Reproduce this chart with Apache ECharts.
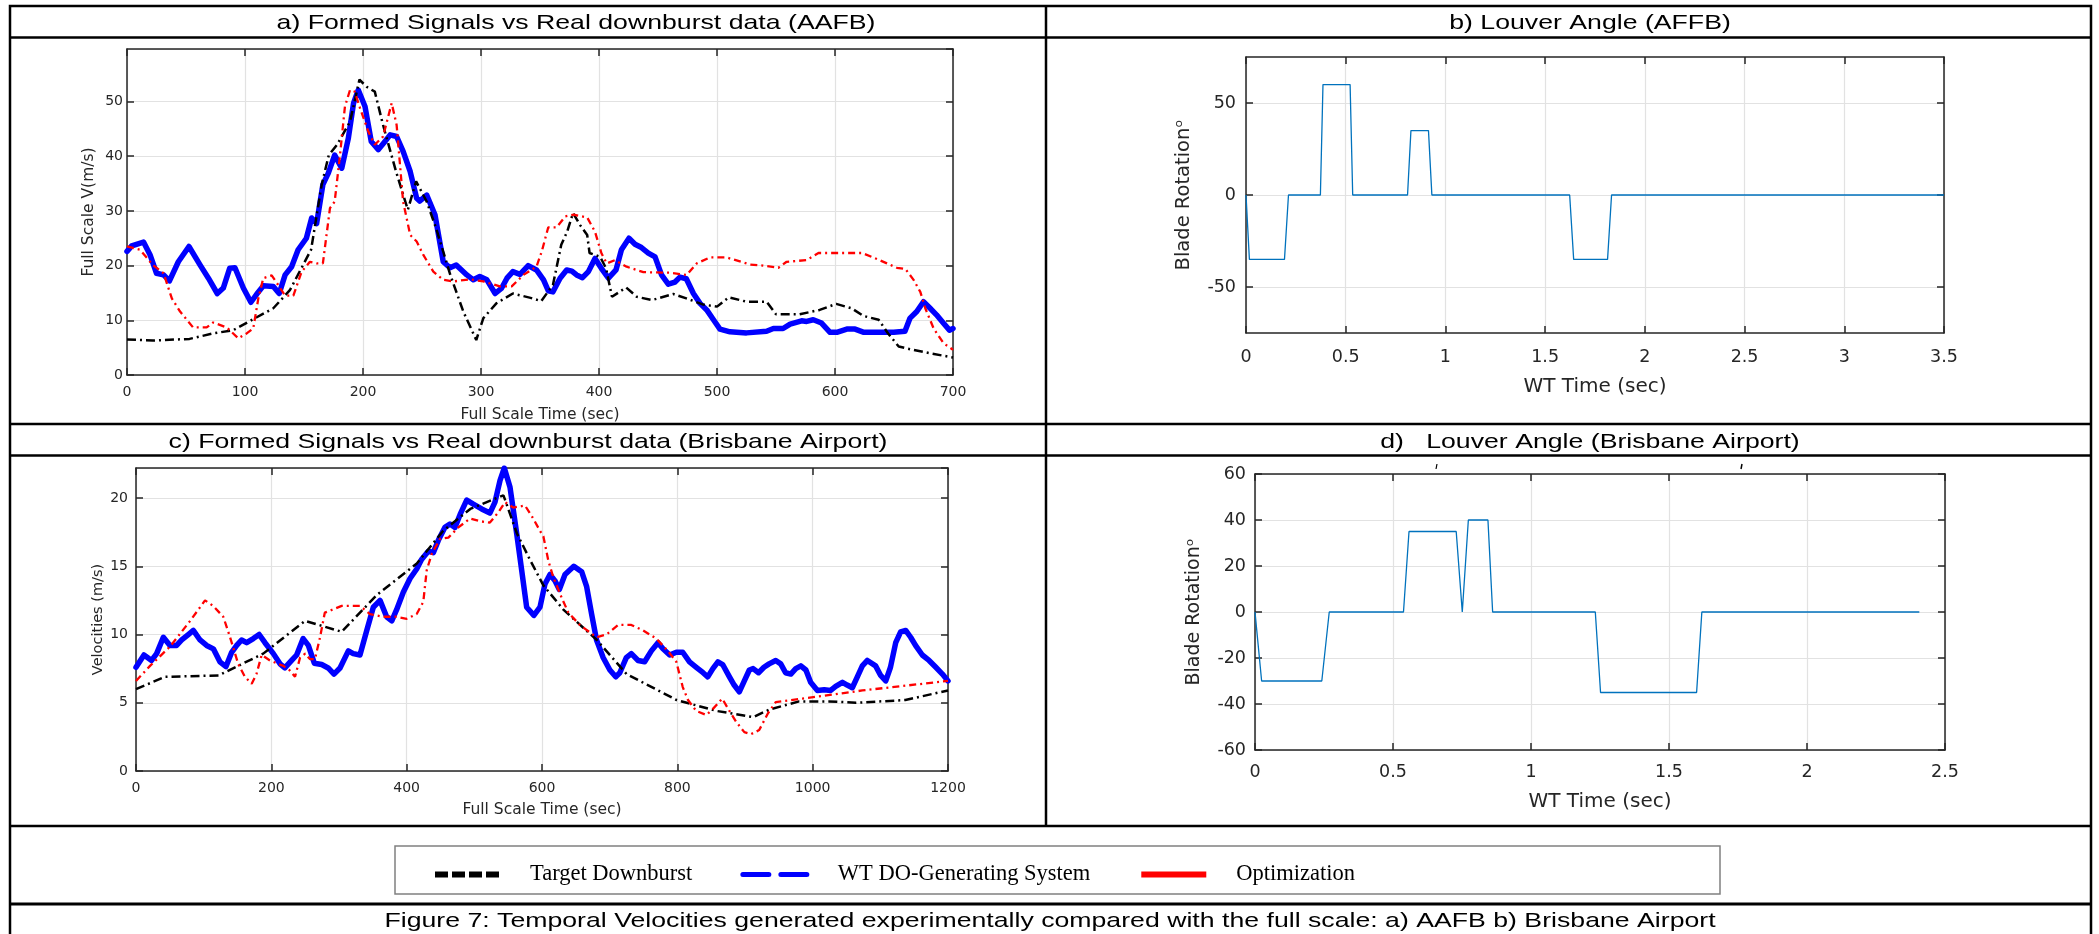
<!DOCTYPE html>
<html><head><meta charset="utf-8">
<script src="https://cdn.jsdelivr.net/npm/echarts@6/dist/echarts.min.js"></script>
<style>html,body{margin:0;padding:0;background:#fff}#c{width:2099px;height:934px}</style>
</head><body><div id="c"></div>
<script>
// ---------------- data ----------------
const seriesNames = ['Target Downburst', 'WT DO-Generating System', 'Optimization'];

// a) AAFB  [time (s), velocity (m/s)]
const aTarget = [[0,6.5],[22,6.3],[53,6.6],[73,7.6],[90,8.2],[107,10.2],[124,12.2],[138,15.5],[156,22.9],[165,34.8],[171,40.2],[178,42.1],[189,46.3],[197,54],[203,52.7],[210,51.8],[217,45.7],[228,37.2],[238,30.2],[245,35.4],[254,31.7],[262,26.8],[274,18.3],[285,11.6],[296,6.4],[302,10.4],[313,13.1],[327,14.9],[342,14.1],[351,13.5],[361,16.5],[368,23.8],[373,26.2],[378,29.6],[384,27.4],[390,25.6],[392,22.3],[401,21.6],[406,19.5],[411,14.3],[423,16],[432,14.3],[445,13.7],[463,14.8],[474,14],[488,12.9],[500,12.5],[510,14.2],[525,13.4],[542,13.4],[550,11.1],[570,11.1],[587,11.9],[601,13],[614,12.2],[624,10.8],[637,10.1],[645,7.6],[654,5.2],[666,4.6],[680,4],[700,3.2]];
const aWT = [[0,22.6],[4,23.6],[14,24.3],[19.5,22],[25,18.6],[31,18.3],[36,17.2],[43.5,20.7],[52.5,23.5],[62,20.1],[69,17.7],[76.5,14.9],[81.6,15.9],[87,19.5],[91.5,19.6],[98.6,15.9],[105,13.3],[110,14.8],[115.5,16.3],[124,16.2],[129,14.9],[134,18.3],[139.5,19.8],[145,22.9],[152,25],[156.5,28.7],[160.7,27.7],[166,34.8],[170.6,36.9],[176,40.2],[182,37.8],[187.6,43.3],[192,49.7],[196,52.1],[201.7,49.1],[207,42.7],[213,41.2],[218.6,42.7],[223,43.9],[228.5,43.6],[234,40.9],[240,37.2],[245.5,32.3],[248,31.8],[254,32.9],[261,29.3],[268,20.7],[273.7,19.6],[279,20.1],[288,18.3],[293.5,17.4],[299,18],[305,17.4],[312,14.9],[317.5,15.9],[322,17.7],[327,18.9],[333,18.4],[340,20],[347,19.2],[353,17.4],[357,15.4],[361,15.2],[367,17.7],[372.6,19.2],[377,19],[381,18.3],[386,17.8],[391,18.9],[396.6,21.3],[402,19.5],[408,17.7],[414.4,19.2],[419,22.9],[425.4,25],[430.5,23.9],[436,23.3],[441.8,22.3],[447.5,21.6],[453,18.3],[458.7,16.6],[464.4,17],[468.6,17.9],[474,17.6],[480,14.9],[485.6,13.1],[491.3,11.9],[497,10.1],[502.5,8.4],[511,7.9],[525,7.7],[542,8],[547.8,8.5],[556,8.5],[562,9.3],[571.7,9.9],[576,9.8],[581.6,10.1],[588.6,9.5],[595.8,7.8],[601.5,7.8],[610,8.4],[617,8.4],[624.5,7.8],[649.8,7.8],[659.3,8],[663.6,10.4],[669.3,11.6],[675,13.4],[680.6,12.2],[686,11],[691.8,9.5],[697,8.2],[700,8.5]];
const aOpt = [[0,23.5],[11,22.9],[22,20.1],[31,18.6],[38,14],[45,11.6],[56,8.7],[67.5,8.7],[73,9.6],[84.5,8.7],[94.4,6.7],[101.4,7.6],[107,8.5],[111.3,14],[115.5,17.7],[122.6,18.2],[128,16.5],[134,14.5],[141,14.5],[148,18.9],[155,20.7],[160.7,20.4],[166,20.4],[172,30.5],[176,31.7],[180.5,40.2],[184.7,49.1],[189,52.1],[193,51.8],[197.5,48.8],[204.5,44.5],[210,42.1],[217,43.6],[224.3,49.7],[228.5,45.7],[234,31.7],[240,25.6],[245.5,24.4],[251,22],[259.6,18.9],[268,17.4],[276.6,17.1],[290.7,17.5],[302,17.1],[316,16.2],[326,16.2],[336,18.3],[347,19.8],[351.5,22.6],[357,27],[364,27],[371.5,29],[378.5,29.3],[390,28.8],[396.6,26.2],[402,22.3],[406.5,20.4],[413.6,21],[423.4,19.8],[437.6,18.8],[460,18.7],[474.3,18.3],[482.8,20.4],[494,21.5],[508,21.5],[528,20.2],[539,20],[552,19.6],[559,20.7],[576,21],[586,22.3],[604,22.3],[623,22.3],[635.5,21.2],[644,20.4],[652.5,19.6],[659.6,19.4],[666.6,17.4],[672.3,15.2],[676.5,12.2],[683.6,8.5],[692,5.8],[700,4.6]];

// c) Brisbane Airport  [time (s), velocity (m/s)]
const cTarget = [[0,6],[43,6.9],[122,7],[188,8.6],[250,11],[304,10.2],[356,12.9],[415,15.2],[454,17.6],[494,19.2],[543,20.2],[563,17.4],[582,15.5],[602,13.6],[632,11.8],[681,9.6],[725,7.1],[799,5.2],[858,4.4],[912,3.95],[936,4.5],[980,5.1],[1024,5.1],[1064,5],[1137,5.2],[1200,5.9]];
const cWT = [[0,7.6],[11.8,8.5],[23,8.1],[30.5,8.6],[40.4,9.8],[50.2,9.2],[60,9.2],[67.5,9.6],[77.3,10],[84.7,10.3],[94.6,9.6],[104.4,9.2],[114.3,8.95],[124,8],[133,7.65],[141.4,8.7],[148.8,9.2],[156,9.6],[163.5,9.4],[173.4,9.7],[182,10],[190.6,9.4],[203,8.6],[212.8,7.85],[220,7.55],[230,8.1],[237.4,8.5],[247,9.7],[254.7,9.2],[263.5,7.9],[274.4,7.8],[284,7.55],[292.6,7.1],[301.5,7.55],[313.8,8.8],[321,8.6],[331,8.5],[341,10.3],[350.7,12],[360.6,12.5],[370.4,11.3],[378,11],[385,11.8],[395,13.1],[405,14.1],[414.8,14.8],[422,15.5],[432,16.1],[439.4,16],[446.8,16.9],[456.6,17.85],[464,18.1],[471.4,17.85],[479,18.8],[488.7,19.85],[498.5,19.55],[510.8,19.2],[523,18.9],[530.5,19.7],[538,21.3],[544.3,22.2],[552.7,20.8],[562.6,17.4],[570,14.7],[577.3,12],[588,11.4],[597,12],[604.4,13.7],[611.8,14.4],[619,13.95],[625.6,13.3],[634,14.4],[647,15],[658.6,14.6],[666,13.5],[673.3,11.5],[680.6,9.6],[690.5,8.3],[700.3,7.4],[709,6.9],[715,7.2],[724.6,8.3],[732,8.6],[742,8.1],[751.7,8],[761.6,8.8],[771.4,9.4],[778.8,8.95],[788.7,8.5],[798.5,8.7],[808,8.7],[818,8],[828,7.6],[838,7.2],[845,6.9],[852.5,7.5],[860,8],[867,7.8],[877,6.9],[884,6.3],[891.6,5.8],[899,6.6],[906.4,7.4],[912,7.5],[920,7.2],[928,7.6],[935.6,7.85],[945.4,8.1],[952.8,7.85],[960,7.2],[967.7,7.1],[975,7.5],[982.5,7.7],[990,7.4],[997,6.5],[1007,5.9],[1017,5.95],[1026.6,5.9],[1034,6.2],[1044,6.5],[1051,6.3],[1058.6,6.1],[1066,6.9],[1073.4,7.7],[1080.8,8.1],[1093,7.7],[1100.5,7],[1108,6.6],[1115,7.6],[1122.7,9.4],[1130,10.2],[1137.5,10.3],[1144.8,9.8],[1152,9.2],[1162,8.5],[1172,8.1],[1182,7.6],[1191.7,7.1],[1200,6.6]];
const cOpt = [[0,6.6],[20.7,7.7],[50,9.1],[80,11],[102,12.5],[114,12.1],[129,11.3],[139,9.8],[151,7.85],[161,6.9],[171,6.4],[178,7.1],[185.7,8.5],[198,8.1],[217.7,7.7],[226.6,7.4],[235,6.9],[242.4,8.3],[250,8.6],[257,8.2],[264.5,8.2],[272,9.8],[279,11.6],[289,11.8],[304,12.1],[331,12.1],[345.8,11.5],[365.5,11.3],[385,11.3],[400,11.15],[414.8,11.5],[424.6,12.4],[429.6,14.7],[437,15.9],[449.3,17],[461.6,17.1],[476.4,17.85],[493.6,18.5],[508.4,18.3],[523,18.2],[535.5,18.95],[545.3,19.7],[557.6,19.3],[574.9,19.45],[587,18.5],[597,17.6],[602,17.2],[609.4,15.4],[616.7,14.2],[629,12.7],[639,11.6],[656,10.7],[680.6,9.8],[695.4,10],[712.6,10.7],[732,10.7],[749.5,10.3],[769,9.7],[786,8.8],[798.5,8],[808,6.15],[815.8,5.2],[828,4.4],[843,4.1],[852.6,4.55],[866.4,5.3],[877,4.4],[887,3.6],[899,2.85],[909,2.7],[921,3],[933.6,4.2],[945.4,5.05],[985,5.3],[1073.4,5.9],[1200,6.6]];

// b) / d) louver angles  [WT time (s), blade rotation (deg)]
const bLouver = [[0,0],[0.017,-35],[0.193,-35],[0.213,0],[0.373,0],[0.386,60],[0.522,60],[0.535,0],[0.81,0],[0.827,35],[0.915,35],[0.932,0],[1.623,0],[1.643,-35],[1.813,-35],[1.833,0],[3.5,0]];
const dLouver = [[0,0],[0.024,-30],[0.242,-30],[0.269,0],[0.538,0],[0.558,35],[0.729,35],[0.751,0],[0.758,0],[0.773,40],[0.844,40],[0.861,0],[1.233,0],[1.252,-35],[1.6,-35],[1.619,0],[2.407,0]];

// axis ranges / ticks
const aX = {min:0, max:700, interval:100};
const aY = {min:0, max:59.6, interval:10};
const bX = {min:0, max:3.5, interval:0.5};
const bY = {min:-75, max:75, interval:25};
const bYTicks = [-50, 0, 50];
const cX = {min:0, max:1200, interval:200};
const cY = {min:0, max:22.2, interval:5};
const dX = {min:0, max:2.5, interval:0.5};
const dY = {min:-60, max:60, interval:20};

const titles = ['a) Formed Signals vs Real downburst data (AAFB)', 'b) Louver Angle (AFFB)',
  'c) Formed Signals vs Real downburst data (Brisbane Airport)', 'd)   Louver Angle (Brisbane Airport)'];
const caption = 'Figure 7: Temporal Velocities generated experimentally compared with the full scale: a) AAFB b) Brisbane Airport';

// ---------------- chart ----------------
const chart = echarts.init(document.getElementById('c'));
const AX = '#262626', FONT = 'DejaVu Sans';
const plain = v => String(v);

function xAxes(gi, r, lab) {
  const base = {type:'value', gridIndex:gi, min:r.min, max:r.max, interval:r.interval,
    axisLine:{show:true, onZero:false, lineStyle:{color:AX, width:1.5}},
    axisTick:{show:true, inside:true, length:7, lineStyle:{color:AX, width:1.5}}};
  return [
    Object.assign({}, base, {position:'bottom', name:lab.name, nameLocation:'middle', nameGap:lab.nameGap,
      nameTextStyle:{color:AX, fontFamily:FONT, fontSize:lab.nameSize},
      splitLine:{show:true, lineStyle:{color:'#e2e2e2', width:1.2}},
      axisLabel:{color:AX, fontFamily:FONT, fontSize:lab.size, margin:lab.margin, formatter:plain}}),
    Object.assign({}, base, {position:'top', axisLabel:{show:false}, splitLine:{show:false}})
  ];
}
function yAxes(gi, r, lab, custom) {
  const tick = {show:true, inside:true, length:7, lineStyle:{color:AX, width:1.5}};
  if (custom) tick.customValues = custom;
  const base = {type:'value', gridIndex:gi, min:r.min, max:r.max, interval:r.interval,
    axisLine:{show:true, onZero:false, lineStyle:{color:AX, width:1.5}}, axisTick:tick};
  const label = {color:AX, fontFamily:FONT, fontSize:lab.size, margin:lab.margin, formatter:plain};
  if (lab.hideMax) label.showMaxLabel = false;
  if (custom) label.customValues = custom;
  return [
    Object.assign({}, base, {position:'left', name:lab.name, nameLocation:'middle', nameGap:lab.nameGap,
      nameTextStyle:{color:AX, fontFamily:FONT, fontSize:lab.nameSize},
      splitLine:{show:true, lineStyle:{color:'#e2e2e2', width:1.2}}, axisLabel:label}),
    Object.assign({}, base, {position:'right', axisLabel:{show:false}, splitLine:{show:false}})
  ];
}

const xAxis = [].concat(
  xAxes(0, aX, {name:'Full Scale Time (sec)', nameGap:32, nameSize:15.5, size:14, margin:10}),
  xAxes(1, bX, {name:'WT Time (sec)', nameGap:44, nameSize:20, size:17.5, margin:15}),
  xAxes(2, cX, {name:'Full Scale Time (sec)', nameGap:31, nameSize:15.5, size:14, margin:10}),
  xAxes(3, dX, {name:'WT Time (sec)', nameGap:42, nameSize:20, size:17.5, margin:13})
);
const yAxis = [].concat(
  yAxes(0, aY, {name:'Full Scale V(m/s)', nameGap:30, nameSize:15.5, size:14, margin:4, hideMax:true}),
  yAxes(1, bY, {name:'Blade Rotationᵒ', nameGap:52, nameSize:19.5, size:17.5, margin:10}, bYTicks),
  yAxes(2, cY, {name:'Velocities (m/s)', nameGap:30, nameSize:14.5, size:14, margin:8, hideMax:true}),
  yAxes(3, dY, {name:'Blade Rotationᵒ', nameGap:51, nameSize:19, size:17.5, margin:9})
);

function flowSeries(gi, target, wt, opt) {
  const ax = {xAxisIndex:gi*2, yAxisIndex:gi*2, type:'line', symbol:'none', showSymbol:false, silent:true, animation:false};
  return [
    Object.assign({}, ax, {name:seriesNames[0], data:target, z:3,
      lineStyle:{color:'#000', width:2.5, type:[9,4,2,4]}, itemStyle:{color:'#000'}}),
    Object.assign({}, ax, {name:seriesNames[1], data:wt, z:2,
      lineStyle:{color:'#0000ff', width:5.5, join:'round', cap:'round'}, itemStyle:{color:'#0000ff'}}),
    Object.assign({}, ax, {name:seriesNames[2], data:opt, z:4,
      lineStyle:{color:'#ff0000', width:2.3, type:[7,4,2,4]}, itemStyle:{color:'#ff0000'}})
  ];
}
function louverSeries(gi, data) {
  return {type:'line', xAxisIndex:gi*2, yAxisIndex:gi*2, data:data, symbol:'none', showSymbol:false,
    silent:true, animation:false, lineStyle:{color:'#0072bd', width:1.3}, itemStyle:{color:'#0072bd'}};
}

function txt(x, y, text, font, sx) {
  return {type:'text', x:x, y:y, scaleX:sx || 1, z:10,
    style:{text:text, font:font, fill:'#000', textAlign:'center', align:'center', textVerticalAlign:'middle', verticalAlign:'middle'}};
}
function hline(y, x1, x2, w) {
  return {type:'line', shape:{x1:x1, y1:y, x2:x2, y2:y}, style:{stroke:'#000', lineWidth:w || 2.5}, z:5};
}

const graphic = [
  {type:'rect', shape:{x:10, y:6, width:2081, height:940}, style:{fill:'none', stroke:'#000', lineWidth:2.5}, z:5},
  hline(37.5, 10, 2091), hline(424, 10, 2091), hline(455.5, 10, 2091), hline(826, 10, 2091), hline(904, 10, 2091, 3),
  {type:'line', shape:{x1:1046, y1:6, x2:1046, y2:826}, style:{stroke:'#000', lineWidth:2.5}, z:5},
  {type:'rect', shape:{x:395, y:846, width:1325, height:48}, style:{fill:'none', stroke:'#808080', lineWidth:1.5}, z:1},
  {type:'line', shape:{x1:1437, y1:464, x2:1436, y2:469}, style:{stroke:'#000', lineWidth:1.2}},
  {type:'line', shape:{x1:1742, y1:464, x2:1741, y2:469}, style:{stroke:'#000', lineWidth:1.5}},
  txt(576, 23, titles[0], '21px "Liberation Sans"', 1.27),
  txt(1590, 23, titles[1], '21px "Liberation Sans"', 1.27),
  txt(528, 442, titles[2], '21px "Liberation Sans"', 1.27),
  txt(1590, 442, titles[3], '21px "Liberation Sans"', 1.27),
  txt(1050, 921, caption, '21px "Liberation Sans"', 1.27)
];

const hideSym = {opacity:0};
chart.setOption({
  animation:false,
  backgroundColor:'#fff',
  grid:[
    {left:127, top:49, width:826, height:326, outerBoundsMode:'none'},
    {left:1246, top:57, width:698, height:276, outerBoundsMode:'none'},
    {left:136, top:468, width:812, height:303, outerBoundsMode:'none'},
    {left:1255, top:474, width:690, height:276, outerBoundsMode:'none'}
  ],
  xAxis:xAxis, yAxis:yAxis,
  legend:{left:427, top:858, itemWidth:65, itemHeight:12, itemGap:48,
    textStyle:{fontFamily:'Liberation Serif', fontSize:22.5, color:'#000', padding:[0,0,0,25]},
    data:[
      {name:seriesNames[0], itemStyle:hideSym, lineStyle:{color:'#000', width:6, type:[13,4]}},
      {name:seriesNames[1], itemStyle:hideSym, lineStyle:{color:'#0000ff', width:5, type:[26,12]}},
      {name:seriesNames[2], itemStyle:hideSym, lineStyle:{color:'#ff0000', width:6, type:'solid'}}
    ]},
  series:[].concat(flowSeries(0, aTarget, aWT, aOpt), [louverSeries(1, bLouver)],
    flowSeries(2, cTarget, cWT, cOpt), [louverSeries(3, dLouver)]),
  graphic:graphic
});
</script></body></html>
